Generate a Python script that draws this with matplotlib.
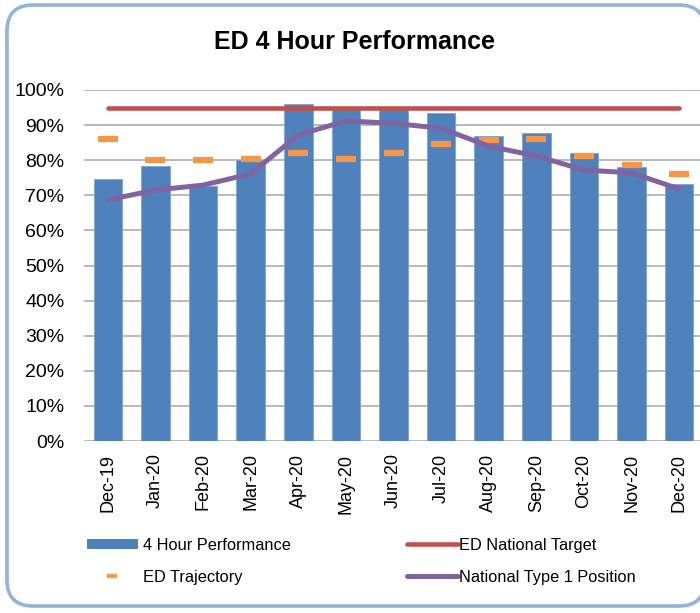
import matplotlib
matplotlib.use("Agg")
import matplotlib.pyplot as plt
from matplotlib.patches import FancyBboxPatch, Patch
from matplotlib.lines import Line2D
from matplotlib.ticker import FuncFormatter

# ----------------------------------------------------------------------
# data (percent)
# ----------------------------------------------------------------------
months = ['Dec-19', 'Jan-20', 'Feb-20', 'Mar-20', 'Apr-20', 'May-20', 'Jun-20',
          'Jul-20', 'Aug-20', 'Sep-20', 'Oct-20', 'Nov-20', 'Dec-20']
performance = [74.6, 78.3, 72.6, 80.1, 96.1, 95.0, 94.7, 93.5, 87.0, 87.7, 82.0, 78.0, 73.2]
trajectory = [86.1, 80.1, 80.0, 80.4, 82.1, 80.3, 82.1, 84.7, 85.8, 86.1, 81.1, 78.6, 76.0]
national_target = [95, 95, 95, 95, 95, 95, 95, 95, 95, 95, 95, 95, 95]
national_type1 = [68.7, 71.5, 72.9, 76.1, 87.2, 91.2, 90.5, 89.1, 84.0, 81.2, 77.2, 76.4, 71.8]
y_ticks = [0, 10, 20, 30, 40, 50, 60, 70, 80, 90, 100]

BLUE = '#4F81BD'
RED = '#C0504D'
ORANGE = '#F79646'
PURPLE = '#8064A2'

plt.rcParams['font.family'] = ['Liberation Sans', 'DejaVu Sans']

W, H = 700, 613
fig = plt.figure(figsize=(W / 100, H / 100), dpi=100)

# background axes in pixel units for the rounded frame
bg = fig.add_axes([0, 0, 1, 1], zorder=-1)
bg.set_xlim(0, W)
bg.set_ylim(H, 0)
bg.axis('off')
bg.add_patch(FancyBboxPatch((7, 5), 698, 601,
                            boxstyle='round,pad=0,rounding_size=26',
                            facecolor='white', edgecolor='#95B3D7', linewidth=2.6))

# plot area (runs slightly past the right edge, as in the reference)
ax = fig.add_axes([84 / W, 1 - 441 / H, 619 / W, 351 / H])
ax.set_facecolor('none')
x = list(range(len(months)))

ax.bar(x, performance, width=0.6, color=BLUE, edgecolor='#7FA3D0', linewidth=0.6, zorder=2)
ax.plot(x, national_target, color=RED, lw=3.3, solid_capstyle='round', zorder=3)
ax.plot(x, trajectory, linestyle='none', marker='_', markersize=15, mew=4.5,
        color=ORANGE, zorder=4)
ax.plot(x, national_type1, color=PURPLE, lw=3.6, solid_capstyle='round',
        solid_joinstyle='round', zorder=5)

ax.set_xlim(-0.5, len(months) - 0.5)
ax.set_ylim(0, 100)
ax.set_yticks(y_ticks)
ax.yaxis.set_major_formatter(FuncFormatter(lambda v, p: f'{v:.0f}%'))
ax.set_xticks(x)
ax.set_xticklabels(months, rotation=90)
ax.tick_params(axis='y', length=0, pad=14, labelsize=14)
ax.tick_params(axis='x', length=0, pad=9, labelsize=13)
ax.grid(axis='y', color='#A6A6A6', lw=1.1, zorder=0)
for s in ax.spines.values():
    s.set_visible(False)

# title
fig.text(355 / W, 1 - 42 / H, 'ED 4 Hour Performance', ha='center', va='center',
         fontsize=18, fontweight='bold')

# legend, two columns placed separately
leg_kw = dict(frameon=False, fontsize=11.8, handlelength=3.1,
              labelspacing=1.02, borderpad=0, borderaxespad=0, loc='upper left')
h1 = [Patch(facecolor=BLUE, edgecolor='none'),
      Line2D([], [], linestyle='none', marker='_', markersize=7, mew=3.2, color=ORANGE)]
fig.legend(h1, ['4 Hour Performance', 'ED Trajectory'], handletextpad=0.3,
           bbox_to_anchor=(87 / W, 1 - 538 / H), handleheight=0.55, **leg_kw)
h2 = [Line2D([], [], color=RED, lw=3.3, solid_capstyle='round'),
      Line2D([], [], color=PURPLE, lw=3.6, solid_capstyle='round')]
fig.legend(h2, ['ED National Target', 'National Type 1 Position'], handletextpad=0.1,
           bbox_to_anchor=(407 / W, 1 - 538 / H), **leg_kw)

fig.savefig('out.png', dpi=100)
